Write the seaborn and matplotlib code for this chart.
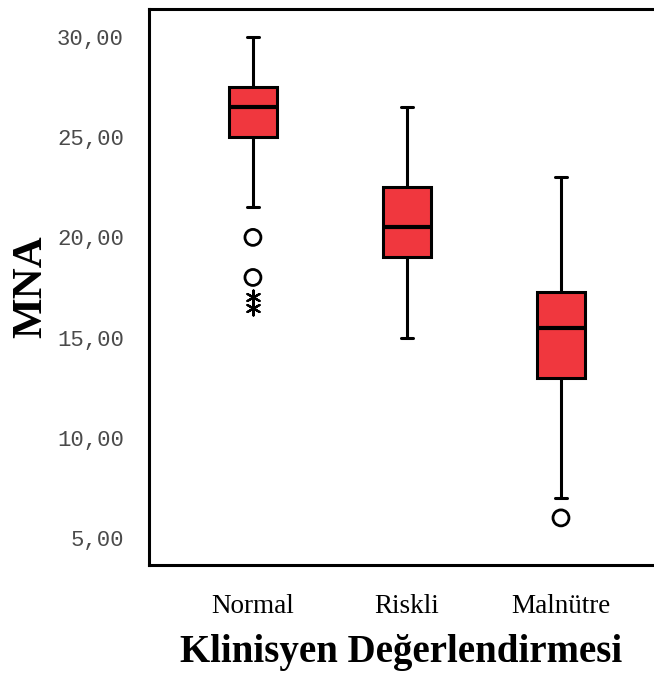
import numpy as np
import pandas as pd
import matplotlib
matplotlib.use("Agg")
import matplotlib.pyplot as plt
from matplotlib.ticker import FuncFormatter
import seaborn as sns

groups = ["Normal", "Riskli", "Malnütre"]
# five-number summaries: lower whisker, Q1, median, Q3, upper whisker
normal_summary = [21.5, 25.0, 26.5, 27.5, 30.0]
riskli_summary = [15.0, 19.0, 20.5, 22.5, 26.5]
malnutre_summary = [7.0, 13.0, 15.5, 17.25, 23.0]

# outliers (circles) and extreme values (stars)
outlier_groups = ["Normal", "Normal", "Malnütre"]
outlier_values = [20.0, 18.0, 6.0]
extreme_groups = ["Normal", "Normal"]
extreme_values = [17.0, 16.5]

yticks = [5, 10, 15, 20, 25, 30]

sns.set_style("white")
plt.rcParams["font.family"] = ["Liberation Serif", "DejaVu Serif"]
plt.rcParams["text.color"] = "black"
plt.rcParams["axes.labelcolor"] = "black"

summaries = [normal_summary, riskli_summary, malnutre_summary]
box_df = pd.DataFrame({
    "Klinisyen Değerlendirmesi": np.repeat(groups, 5),
    "MNA": np.concatenate(summaries),
})
out_df = pd.DataFrame({"g": outlier_groups, "v": outlier_values})
ext_df = pd.DataFrame({"g": extreme_groups, "v": extreme_values})

fig = plt.figure(figsize=(6.54, 6.75), dpi=100)
ax = fig.add_axes([0.2278, 0.163, 0.7722, 0.8237])

sns.boxplot(
    data=box_df, x="Klinisyen Değerlendirmesi", y="MNA", order=groups,
    whis=(0, 100), width=0.31, color="#F0373E", saturation=1,
    linecolor="black", linewidth=2.2, showfliers=False,
    capwidths=0.08, medianprops={"linewidth": 3.0}, ax=ax,
)
sns.stripplot(
    data=out_df, x="g", y="v", order=groups, jitter=False,
    marker="o", s=11.5, facecolors="none", edgecolor="black",
    linewidth=2.0, color="black", ax=ax, zorder=5,
)
sns.stripplot(
    data=ext_df, x="g", y="v", order=groups, jitter=False,
    marker=(6, 2, 0), s=10, edgecolor="black", linewidth=1.6,
    color="black", ax=ax, zorder=5,
)

ax.set_xlim(-0.675, 2.604)
ax.set_ylim(3.65, 31.4)
ax.set_yticks(yticks)
ax.yaxis.set_major_formatter(FuncFormatter(lambda v, p: f"{v:.2f}".replace(".", ",")))

for side in ["left", "bottom", "top"]:
    ax.spines[side].set_linewidth(2.2)
    ax.spines[side].set_color("black")
ax.spines["right"].set_visible(False)

ax.tick_params(axis="y", length=10, width=1.6, color="black", pad=8,
               labelsize=16, labelcolor="#4a4a4a")
ax.tick_params(axis="x", length=19, width=1.6, color="black", pad=2,
               labelsize=19.5, labelcolor="black")
for lbl in ax.get_yticklabels():
    lbl.set_fontfamily("Liberation Mono")

ax.set_xlabel("Klinisyen Değerlendirmesi", fontsize=28, fontweight="bold",
              labelpad=11, color="black")
ax.set_ylabel("MNA", fontsize=31, fontweight="bold", labelpad=5, color="black")

fig.savefig("out.png", dpi=100)
